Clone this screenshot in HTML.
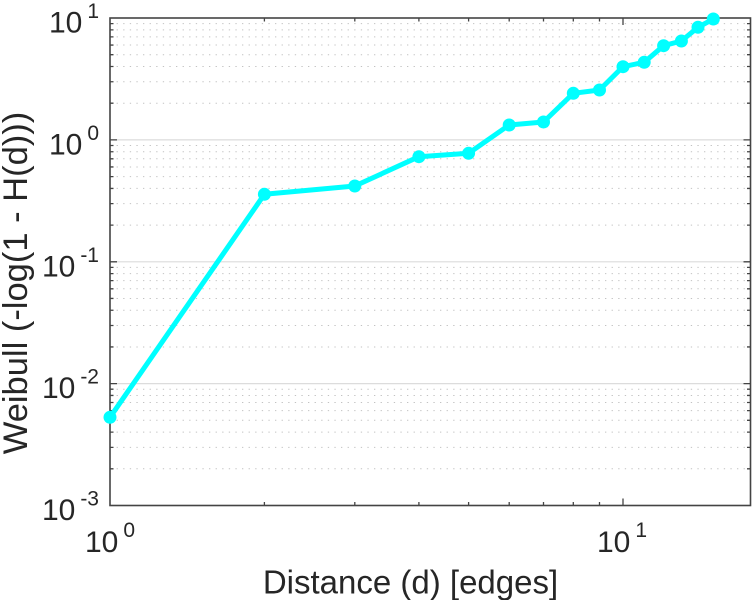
<!DOCTYPE html>
<html><head><meta charset="utf-8"><style>
html,body{margin:0;padding:0;background:#fff;}
svg{display:block;}
text{font-family:"Liberation Sans",Arial,sans-serif;fill:#262626;}
</style></head><body>
<svg width="756" height="600" viewBox="0 0 756 600" xmlns="http://www.w3.org/2000/svg">
<rect width="756" height="600" fill="#fff"/>
<!-- minor grid (dotted) -->
<path fill="none" stroke="#c2c2c2" stroke-width="1" stroke-dasharray="1.3 5.3" d="
M110 468.81H750.5 M110 447.35H750.5 M110 432.12H750.5 M110 420.31H750.5 M110 410.66H750.5 M110 402.5H750.5 M110 395.44H750.5 M110 389.21H750.5
M110 346.96H750.5 M110 325.5H750.5 M110 310.27H750.5 M110 298.46H750.5 M110 288.81H750.5 M110 280.65H750.5 M110 273.59H750.5 M110 267.36H750.5
M110 225.11H750.5 M110 203.65H750.5 M110 188.42H750.5 M110 176.61H750.5 M110 166.96H750.5 M110 158.8H750.5 M110 151.74H750.5 M110 145.51H750.5
M110 103.21H750.5 M110 81.75H750.5 M110 66.52H750.5 M110 54.71H750.5 M110 45.06H750.5 M110 36.9H750.5 M110 29.84H750.5 M110 23.61H750.5"/>
<!-- major grid -->
<path fill="none" stroke="#dcdcdc" stroke-width="1.2" d="M110 139.9H750.5 M110 261.8H750.5 M110 383.65H750.5"/>
<!-- axes box -->
<rect x="110" y="18" width="640.5" height="487.5" fill="none" stroke="#444" stroke-width="1.6"/>
<!-- x ticks bottom & top -->
<path fill="none" stroke="#444" stroke-width="1.3" d="
M264.4 505.5v-3.5 M354.8 505.5v-3.5 M418.9 505.5v-3.5 M468.6 505.5v-3.5 M509.2 505.5v-3.5 M543.5 505.5v-3.5 M573.3 505.5v-3.5 M599.5 505.5v-3.5 M623 505.5v-7
M264.4 18v3.5 M354.8 18v3.5 M418.9 18v3.5 M468.6 18v3.5 M509.2 18v3.5 M543.5 18v3.5 M573.3 18v3.5 M599.5 18v3.5 M623 18v7"/>
<!-- y ticks left & right -->
<path fill="none" stroke="#444" stroke-width="1.3" d="
M110 468.81h3.5 M110 447.35h3.5 M110 432.12h3.5 M110 420.31h3.5 M110 410.66h3.5 M110 402.5h3.5 M110 395.44h3.5 M110 389.21h3.5
M110 346.96h3.5 M110 325.5h3.5 M110 310.27h3.5 M110 298.46h3.5 M110 288.81h3.5 M110 280.65h3.5 M110 273.59h3.5 M110 267.36h3.5
M110 225.11h3.5 M110 203.65h3.5 M110 188.42h3.5 M110 176.61h3.5 M110 166.96h3.5 M110 158.8h3.5 M110 151.74h3.5 M110 145.51h3.5
M110 103.21h3.5 M110 81.75h3.5 M110 66.52h3.5 M110 54.71h3.5 M110 45.06h3.5 M110 36.9h3.5 M110 29.84h3.5 M110 23.61h3.5
M110 139.9h7 M110 261.8h7 M110 383.65h7
M750.5 468.81h-3.5 M750.5 447.35h-3.5 M750.5 432.12h-3.5 M750.5 420.31h-3.5 M750.5 410.66h-3.5 M750.5 402.5h-3.5 M750.5 395.44h-3.5 M750.5 389.21h-3.5
M750.5 346.96h-3.5 M750.5 325.5h-3.5 M750.5 310.27h-3.5 M750.5 298.46h-3.5 M750.5 288.81h-3.5 M750.5 280.65h-3.5 M750.5 273.59h-3.5 M750.5 267.36h-3.5
M750.5 225.11h-3.5 M750.5 203.65h-3.5 M750.5 188.42h-3.5 M750.5 176.61h-3.5 M750.5 166.96h-3.5 M750.5 158.8h-3.5 M750.5 151.74h-3.5 M750.5 145.51h-3.5
M750.5 103.21h-3.5 M750.5 81.75h-3.5 M750.5 66.52h-3.5 M750.5 54.71h-3.5 M750.5 45.06h-3.5 M750.5 36.9h-3.5 M750.5 29.84h-3.5 M750.5 23.61h-3.5
M750.5 139.9h-7 M750.5 261.8h-7 M750.5 383.65h-7"/>
<!-- data -->
<polyline fill="none" stroke="#00ffff" stroke-width="5" stroke-linejoin="round" points="
110,417.3 264.4,194.3 354.8,186 418.9,156.7 468.6,153.3 509.2,125 543.5,122 573.3,93.3 599.5,90 623,66.7 644.2,62.3 663.6,45.7 681.4,41 698,27.3 713.3,19"/>
<g fill="#00ffff">
<circle cx="110" cy="417.3" r="6.5"/><circle cx="264.4" cy="194.3" r="6.5"/><circle cx="354.8" cy="186" r="6.5"/>
<circle cx="418.9" cy="156.7" r="6.5"/><circle cx="468.6" cy="153.3" r="6.5"/><circle cx="509.2" cy="125" r="6.5"/>
<circle cx="543.5" cy="122" r="6.5"/><circle cx="573.3" cy="93.3" r="6.5"/><circle cx="599.5" cy="90" r="6.5"/>
<circle cx="623" cy="66.7" r="6.5"/><circle cx="644.2" cy="62.3" r="6.5"/><circle cx="663.6" cy="45.7" r="6.5"/>
<circle cx="681.4" cy="41" r="6.5"/><circle cx="698" cy="27.3" r="6.5"/><circle cx="713.3" cy="19" r="6.5"/>
</g>
<!-- y tick labels -->
<g font-size="30" text-anchor="end">
<text x="99" y="32.5">10<tspan dx="5" dy="-14.5" font-size="21">1</tspan></text>
<text x="99" y="154.4">10<tspan dx="5" dy="-14.5" font-size="21">0</tspan></text>
<text x="99" y="276.3">10<tspan dx="5" dy="-14.5" font-size="21">-1</tspan></text>
<text x="99" y="398.2">10<tspan dx="5" dy="-14.5" font-size="21">-2</tspan></text>
<text x="99" y="520">10<tspan dx="5" dy="-14.5" font-size="21">-3</tspan></text>
</g>
<!-- x tick labels -->
<g font-size="30" text-anchor="middle">
<text x="110" y="552">10<tspan dx="5" dy="-15" font-size="21">0</tspan></text>
<text x="622" y="552">10<tspan dx="5" dy="-15" font-size="21">1</tspan></text>
</g>
<!-- axis labels -->
<text x="410.5" y="593.3" font-size="33" text-anchor="middle">Distance (d) [edges]</text>
<text transform="translate(27,283) rotate(-90)" font-size="34.5" text-anchor="middle">Weibull (-log(1 - H(d)))</text>
</svg>
</body></html>
